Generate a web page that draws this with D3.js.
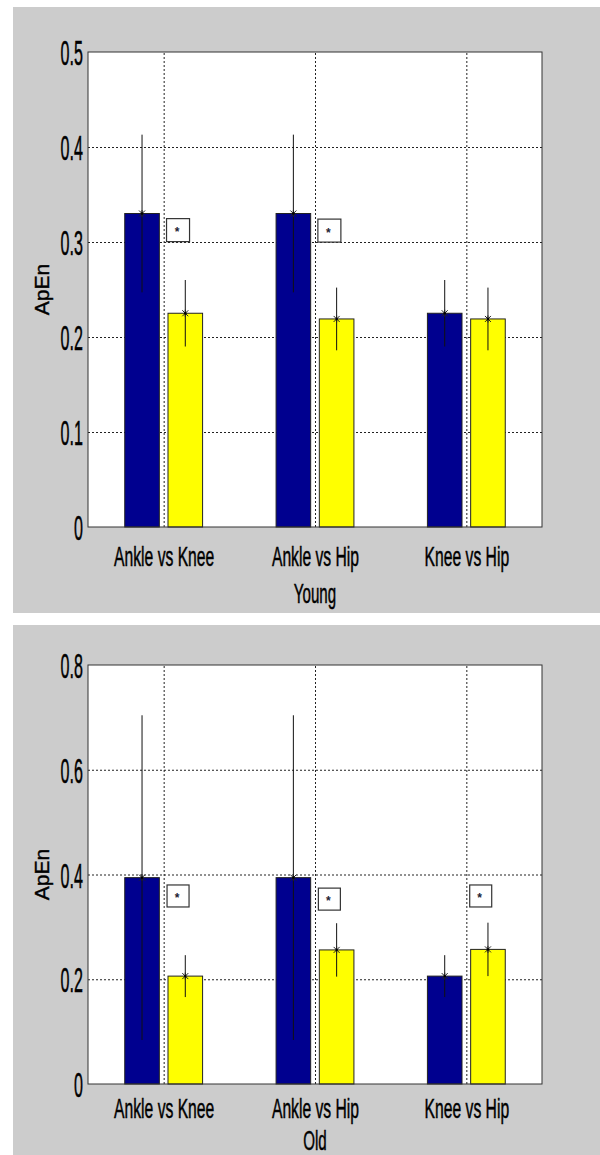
<!DOCTYPE html>
<html>
<head>
<meta charset="utf-8">
<script src="https://cdn.jsdelivr.net/npm/d3@7"></script>
<style>
  html, body { margin: 0; padding: 0; background: #ffffff; }
  svg { display: block; }
</style>
</head>
<body>
<script>
// ---------------- data ----------------
const categories = ["Ankle vs Knee", "Ankle vs Hip", "Knee vs Hip"];

const youngBlue = [0.330, 0.330, 0.225];
const youngBlueErr = [0.083, 0.083, 0.035];
const youngYellow = [0.225, 0.219, 0.219];
const youngYellowErr = [0.035, 0.033, 0.033];

const oldBlue = [0.394, 0.394, 0.206];
const oldBlueErr = [0.31, 0.31, 0.04];
const oldYellow = [0.206, 0.256, 0.257];
const oldYellowErr = [0.04, 0.051, 0.051];

const youngTickValues = [0, 0.1, 0.2, 0.3, 0.4, 0.5];
const youngTickLabels = ["0", "0.1", "0.2", "0.3", "0.4", "0.5"];
const oldTickValues = [0, 0.2, 0.4, 0.6, 0.8];
const oldTickLabels = ["0", "0.2", "0.4", "0.6", "0.8"];

const youngStarCats = [0, 1];
const youngStarY = [0.3125, 0.312];
const oldStarCats = [0, 1, 2];
const oldStarY = [0.359, 0.353, 0.359];

const yLabel = "ApEn";
const youngTitle = "Young";
const oldTitle = "Old";

// ---------------- drawing ----------------
const W = 600, H = 1155;
const svg = d3.select("body").append("svg").attr("width", W).attr("height", H);
const FONT = "'Liberation Sans', Arial, sans-serif";
const BLUE = "#00008F", YELLOW = "#FFFF00";

function drawPanel(cfg) {
  const g = svg.append("g");
  g.append("rect").attr("x", cfg.bg[0]).attr("y", cfg.bg[1])
    .attr("width", cfg.bg[2]).attr("height", cfg.bg[3]).attr("fill", "#cccccc");

  const x = d3.scaleLinear().domain([0.5, 3.5]).range([cfg.left, cfg.right]);
  const y = d3.scaleLinear().domain([0, cfg.ymax]).range([cfg.bottom, cfg.top]);

  g.append("rect").attr("x", cfg.left).attr("y", cfg.top)
    .attr("width", cfg.right - cfg.left).attr("height", cfg.bottom - cfg.top).attr("fill", "#fff");

  // horizontal grid
  const gy = g.append("g").attr("transform", `translate(${cfg.left},0)`)
    .call(d3.axisLeft(y).tickValues(cfg.ticks.filter(t => t > 0 && t < cfg.ymax))
      .tickSize(-(cfg.right - cfg.left)).tickFormat(""));
  gy.select(".domain").remove();
  gy.selectAll("line").attr("stroke", "#222").attr("stroke-dasharray", "2,2").attr("stroke-width", 1);

  // vertical grid
  const gx = g.append("g").attr("transform", `translate(0,${cfg.bottom})`)
    .call(d3.axisBottom(x).tickValues([1, 2, 3]).tickSize(-(cfg.bottom - cfg.top)).tickFormat(""));
  gx.select(".domain").remove();
  gx.selectAll("line").attr("stroke", "#222").attr("stroke-dasharray", "2,2").attr("stroke-width", 1);

  const off = 0.1429, bw = 0.2286;
  const series = [
    { vals: cfg.blue, errs: cfg.blueErr, color: BLUE, o: -off },
    { vals: cfg.yellow, errs: cfg.yellowErr, color: YELLOW, o: off }
  ];
  series.forEach(s => {
    g.append("g").selectAll("rect").data(s.vals).join("rect")
      .attr("x", (d, i) => x(i + 1 + s.o - bw / 2))
      .attr("width", (d, i) => x(i + 1 + s.o + bw / 2) - x(i + 1 + s.o - bw / 2))
      .attr("y", d => y(d))
      .attr("height", d => y(0) - y(d))
      .attr("fill", s.color).attr("stroke", "#222").attr("stroke-width", 1);
  });
  series.forEach(s => {
    const eg = g.append("g");
    eg.selectAll("line.err").data(s.vals).join("line").attr("class", "err")
      .attr("x1", (d, i) => x(i + 1 + s.o)).attr("x2", (d, i) => x(i + 1 + s.o))
      .attr("y1", (d, i) => y(d - s.errs[i])).attr("y2", (d, i) => y(d + s.errs[i]))
      .attr("stroke", "#111").attr("stroke-width", 1);
    const m = eg.selectAll("g.mk").data(s.vals).join("g").attr("class", "mk")
      .attr("transform", (d, i) => `translate(${x(i + 1 + s.o)},${y(d)})`);
    m.append("path").attr("d", "M-3,-3L3,3M-3,3L3,-3M0,-3.5L0,3.5")
      .attr("stroke", "#222").attr("stroke-width", 1).attr("fill", "none");
    m.append("circle").attr("r", 1.2).attr("fill", "#000");
  });

  // star boxes
  const sb = g.append("g");
  cfg.starCats.forEach((c, k) => {
    const cx = x(c + 1 + 0.095), cy = y(cfg.starY[k]);
    sb.append("rect").attr("x", cx - cfg.box / 2).attr("y", cy - cfg.box / 2)
      .attr("width", cfg.box).attr("height", cfg.box)
      .attr("fill", "#fff").attr("stroke", "#333").attr("stroke-width", 1.2);
    sb.append("text").attr("x", cx - 1).attr("y", cy + 6).attr("text-anchor", "middle")
      .attr("font-family", FONT).attr("font-size", 12).attr("font-weight", "bold")
      .attr("fill", "#223").text("*");
  });

  // frame
  g.append("rect").attr("x", cfg.left).attr("y", cfg.top)
    .attr("width", cfg.right - cfg.left).attr("height", cfg.bottom - cfg.top)
    .attr("fill", "none").attr("stroke", "#333").attr("stroke-width", 1);

  // y tick labels (condensed via horizontal scale)
  const sy = 0.46, pad = 5;
  const ya = g.append("g").attr("transform", `translate(${cfg.left},0)`)
    .call(d3.axisLeft(y).tickValues(cfg.ticks).tickSize(0).tickPadding(pad)
      .tickFormat((d, i) => cfg.tickLabels[i]));
  ya.select(".domain").remove();
  ya.selectAll("text").attr("font-family", FONT).attr("font-size", 35)
    .attr("fill", "#000").attr("stroke", "#000").attr("stroke-width", 0.5)
    .attr("dy", "0.36em").attr("x", -pad / sy).attr("transform", `scale(${sy},1)`);

  // x tick labels
  const sx = 0.56;
  const xa = g.append("g").attr("transform", `translate(0,${cfg.bottom})`)
    .call(d3.axisBottom(x).tickValues([1, 2, 3]).tickSize(0)
      .tickFormat(d => categories[d - 1]));
  xa.select(".domain").remove();
  xa.selectAll("text").attr("font-family", FONT).attr("font-size", 28)
    .attr("fill", "#000").attr("stroke", "#000").attr("stroke-width", 0.5)
    .attr("y", cfg.xlabOff).attr("dy", 0).attr("transform", `scale(${sx},1)`);

  // title under axis
  g.append("text").attr("transform", `translate(${x(2)},${cfg.titleY}) scale(0.54,1)`)
    .attr("text-anchor", "middle")
    .attr("font-family", FONT).attr("font-size", 28).attr("fill", "#000")
    .attr("stroke", "#000").attr("stroke-width", 0.5).text(cfg.title);

  // y label
  g.append("text").attr("transform", `translate(49,${(cfg.top + cfg.bottom) / 2}) rotate(-90) scale(1.05,1)`)
    .attr("text-anchor", "middle").attr("font-family", FONT).attr("font-size", 20)
    .attr("fill", "#000").attr("stroke", "#000").attr("stroke-width", 0.4)
    .text(yLabel);
}

drawPanel({
  bg: [13, 7, 587, 606], left: 88, right: 542, top: 52, bottom: 527, ymax: 0.5,
  ticks: youngTickValues, tickLabels: youngTickLabels,
  blue: youngBlue, blueErr: youngBlueErr, yellow: youngYellow, yellowErr: youngYellowErr,
  starCats: youngStarCats, starY: youngStarY, box: 23,
  xlabOff: 39, titleY: 603, title: youngTitle
});
drawPanel({
  bg: [13, 625, 587, 530], left: 88, right: 542, top: 665, bottom: 1084, ymax: 0.8,
  ticks: oldTickValues, tickLabels: oldTickLabels,
  blue: oldBlue, blueErr: oldBlueErr, yellow: oldYellow, yellowErr: oldYellowErr,
  starCats: oldStarCats, starY: oldStarY, box: 22,
  xlabOff: 34, titleY: 1150, title: oldTitle
});
</script>
</body>
</html>
